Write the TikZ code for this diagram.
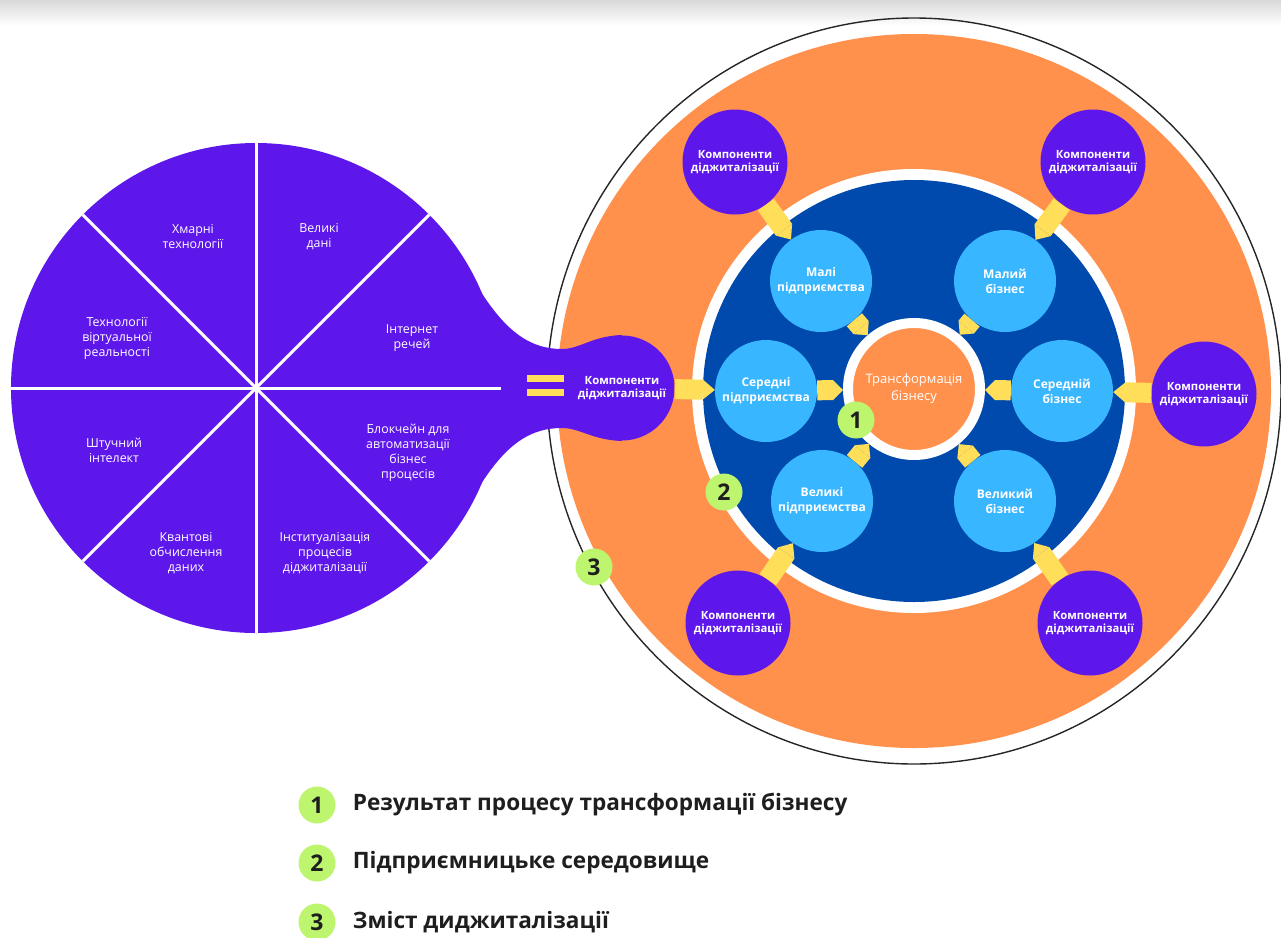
\documentclass[tikz,border=0pt]{standalone}
\usepackage{fontspec}
\setmainfont{Open Sans}
\usepackage{tikz}
\usetikzlibrary{arrows.meta,positioning}
\definecolor{compviolet}{RGB}{94,23,235}
\definecolor{firmblue}{RGB}{56,182,255}
\definecolor{deepblue}{RGB}{0,74,173}
\definecolor{ringorange}{RGB}{255,145,77}
\definecolor{feedyellow}{RGB}{255,222,89}
\definecolor{badgegreen}{RGB}{190,245,110}
\definecolor{inkblack}{RGB}{30,30,30}

\begin{document}
\begin{tikzpicture}[x=1pt,y=-1pt,
  comp/.style={circle,fill=compviolet,minimum size=105pt,inner sep=0pt,
               text=white,align=center,font=\bfseries\fontsize{11.3}{13.5}\selectfont},
  firm/.style={circle,fill=firmblue,minimum size=102pt,inner sep=0pt,
               text=white,align=center,font=\bfseries\fontsize{12}{15}\selectfont},
  core/.style={circle,fill=ringorange,draw=white,line width=10pt,minimum size=132pt,
               inner sep=0pt,text=white,align=center,font=\fontsize{13}{17}\selectfont},
  feed/.style={line width=20pt,draw=feedyellow,
               -{Triangle[length=12pt,width=20pt,line width=0pt]}},
  sector/.style={text=white,align=center,font=\fontsize{12.4}{15}\selectfont},
  badge/.style={circle,fill=badgegreen,minimum size=37pt,inner sep=0pt,
                text=inkblack,font=\bfseries\fontsize{23}{23}\selectfont},
  legend/.style={inner sep=0pt,text=inkblack,font=\bfseries\fontsize{22.6}{22.6}\selectfont}
]
\useasboundingbox (0,0) rectangle (1281,937);
\shade[top color=black!15,bottom color=white] (0,0) rectangle (1281,26);

% rings of the enterprise environment
\draw[line width=1.4pt,black!85] (914,391) ellipse [x radius=367pt,y radius=373pt];
\fill[ringorange] (914,391) circle [radius=357pt];
\fill[white] (914,391) circle [radius=222pt];
\fill[deepblue] (914,391) circle [radius=211pt];

% pie of technologies with its neck
\fill[compviolet] (256,388) circle [radius=245pt];
\fill[compviolet] (481,292) .. controls (508,334) and (532,349) .. (562,349)
  .. controls (580,349) and (592,336) .. (622,335) -- (622,441)
  .. controls (592,440) and (580,428) .. (562,428)
  .. controls (532,428) and (508,442) .. (481,484) -- cycle;
\foreach \a in {0,45,90,135}
  \draw[white,line width=3pt] (256,388) ++(\a:245pt) -- ++({\a+180}:490pt);
\fill[feedyellow] (527,375) rectangle (564,382);
\fill[feedyellow] (527,389) rectangle (564,396);

\node[sector] (cloud) at (193,237) {Хмарні\\технології};
\node[sector] (bigdata) at (319,237) {Великі\\дані};
\node[sector] (iot) at (412,338) {Інтернет\\речей};
\node[sector] (vr) at (117,338) {Технології\\віртуальної\\реальності};
\node[sector] (ai) at (114,450) {Штучний\\інтелект};
\node[sector] (chain) at (408,453) {Блокчейн для\\автоматизації\\бізнес\\процесів};
\node[sector] (quant) at (186,553) {Квантові\\обчислення\\даних};
\node[sector] (inst) at (325,553) {Інституалізація\\процесів\\діджиталізації};

% components
\node[comp] (compL) at (622,388) {Компоненти\\діджиталізації};
\node[comp] (compTL) at (735,162) {Компоненти\\діджиталізації};
\node[comp] (compTR) at (1093,162) {Компоненти\\діджиталізації};
\node[comp] (compR) at (1204,394) {Компоненти\\діджиталізації};
\node[comp] (compBL) at (738,623) {Компоненти\\діджиталізації};
\node[comp] (compBR) at (1090,623) {Компоненти\\діджиталізації};

% enterprises
\node[firm] (smallE) at (821,281) {Малі\\підприємства};
\node[firm] (smallB) at (1005,281) {Малий\\бізнес};
\node[firm] (midE) at (766,391) {Середні\\підприємства};
\node[firm] (midB) at (1062,391) {Середній\\бізнес};
\node[firm] (bigE) at (822,501) {Великі\\підприємства};
\node[firm] (bigB) at (1005,501) {Великий\\бізнес};

\node[core] (core) at (914,389) {Трансформація\\бізнесу};

\foreach \c/\f in {compTL/smallE,compTR/smallB,compL/midE,compR/midB,compBL/bigE,compBR/bigB}
  \draw[feed] (\c) -- (\f);
\foreach \f in {smallE,smallB,midE,midB,bigE,bigB}
  \draw[feed,-{Triangle[length=10pt,width=20pt,line width=0pt]}] (\f) -- (core);

\node[badge] (b1) at (856,420) {1};
\node[badge] (b2) at (724,492) {2};
\node[badge] (b3) at (594,567) {3};

% legend
\node[badge] (k1) at (317,805) {1};
\node[badge] (k2) at (317,863) {2};
\node[badge] (k3) at (317,922) {3};
\node[legend,right=17pt of k1] (t1) {Результат процесу трансформації бізнесу};
\node[legend,right=17pt of k2] (t2) {Підприємницьке середовище};
\node[legend,right=17pt of k3] (t3) {Зміст диджиталізації};
\end{tikzpicture}
\end{document}
